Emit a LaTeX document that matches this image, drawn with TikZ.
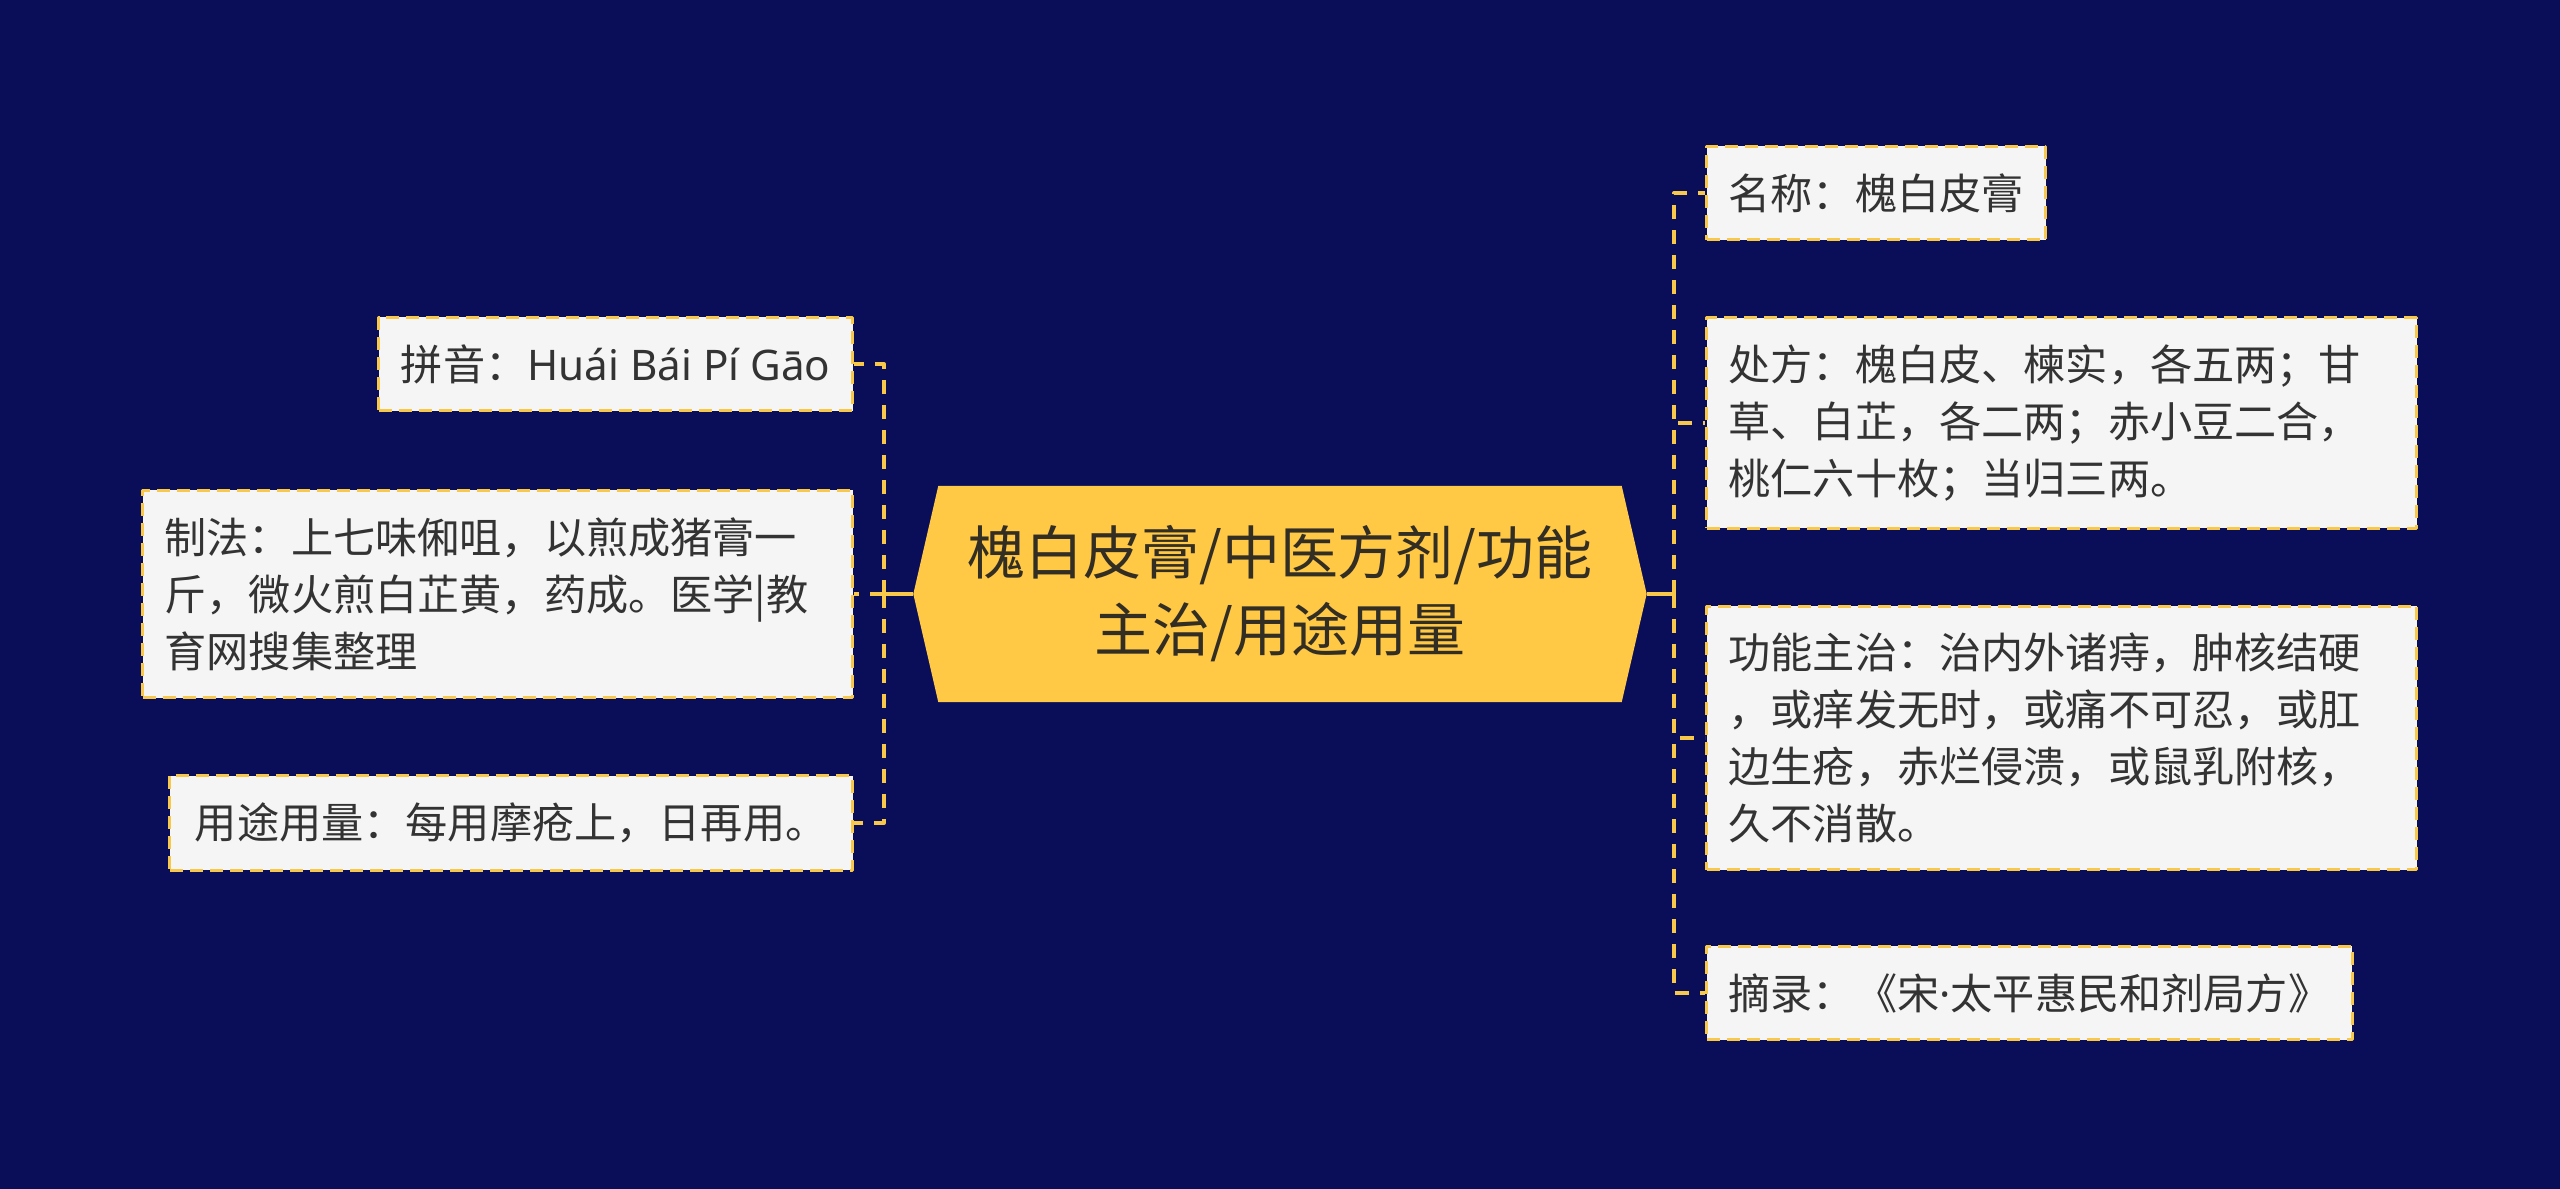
\documentclass[tikz,border=0pt]{standalone}
\usepackage{fontspec}
\setmainfont{Noto Sans CJK SC}
\newfontfamily\latinfont{Noto Sans}
\usetikzlibrary{positioning}

\definecolor{navybg}{RGB}{10,13,88}
\definecolor{hubgold}{RGB}{255,200,69}
\definecolor{linegold}{RGB}{247,200,74}
\definecolor{leafgray}{RGB}{245,245,245}
\definecolor{inkgray}{RGB}{51,51,51}
\definecolor{hubink}{RGB}{50,46,36}

\pgfdeclarelayer{bg}
\pgfsetlayers{bg,main}

\begin{document}
\begin{tikzpicture}[x=0.1mm, y=-0.1mm, line join=round,
  leaf/.style={draw=linegold, fill=leafgray, line width=0.3mm,
    dash pattern=on 1.3mm off 0.7mm, text=inkgray,
    font=\fontsize{12}{16.2}\selectfont,
    inner xsep=2.2mm, inner ysep=2.7mm, align=left},
  leafwide/.style={leaf, text width=66.6mm},
  hub/.style={minimum width=73.2mm, minimum height=21.5mm, inner sep=0pt,
    text=hubink, font=\fontsize{16.5}{21.9}\selectfont, align=center},
  trunk/.style={draw=linegold, line width=0.4mm},
  twig/.style={draw=linegold, line width=0.4mm, dash pattern=on 1.4mm off 1.1mm}]

% ----------------------------
% CANVAS
% ----------------------------
\useasboundingbox (0,0) rectangle (2560,1189);

% ----------------------------
% CENTRE
% ----------------------------
\node[hub] (hub) at (1280,594) {槐白皮膏/中医方剂/功能\\主治/用途用量};

\begin{pgfonlayer}{bg}
  \fill[navybg] (0,0) rectangle (2560,1189);
  \fill[hubgold] (hub.west) -- ([xshift=2.5mm]hub.north west)
    -- ([xshift=-2.5mm]hub.north east) -- (hub.east)
    -- ([xshift=-2.5mm]hub.south east) -- ([xshift=2.5mm]hub.south west) -- cycle;
\end{pgfonlayer}

% ----------------------------
% LEFT BRANCHES
% ----------------------------
\node[leaf, anchor=east] (pinyin) at (854,364) {拼音：{\latinfont Huái Bái Pí Gāo}};
\node[leafwide, anchor=east] (zhifa) at (854,594)
  {制法：上七味俰咀，以煎成猪膏一\\斤，微火煎白芷黄，药成。医学|教\\育网搜集整理};
\node[leaf, anchor=east, inner xsep=2.5mm] (yongtu) at (854,823) {用途用量：每用摩疮上，日再用。};

\coordinate (ljoin) at (884,594);
\draw[trunk] (hub.west) -- (ljoin);
\foreach \leafname in {pinyin,zhifa,yongtu}
  \draw[twig] (ljoin) |- (\leafname.east);

% ----------------------------
% RIGHT BRANCHES
% ----------------------------
\node[leaf, anchor=west] (mingcheng) at (1705,193) {名称：槐白皮膏};
\node[leafwide, anchor=west] (chufang) at (1705,423)
  {处方：槐白皮、楝实，各五两；甘\\草、白芷，各二两；赤小豆二合，\\桃仁六十枚；当归三两。};
\node[leafwide, anchor=west] (gongneng) at (1705,738)
  {功能主治：治内外诸痔，肿核结硬\\，或痒发无时，或痛不可忍，或肛\\边生疮，赤烂侵溃，或鼠乳附核，\\久不消散。};
\node[leaf, anchor=west] (zhailu) at (1705,993) {摘录：《宋{\latinfont ·}太平惠民和剂局方》};

\coordinate (rjoin) at (1674,594);
\draw[trunk] (hub.east) -- (rjoin);
\foreach \leafname in {mingcheng,chufang,gongneng,zhailu}
  \draw[twig] (rjoin) |- (\leafname.west);

\end{tikzpicture}
\end{document}
